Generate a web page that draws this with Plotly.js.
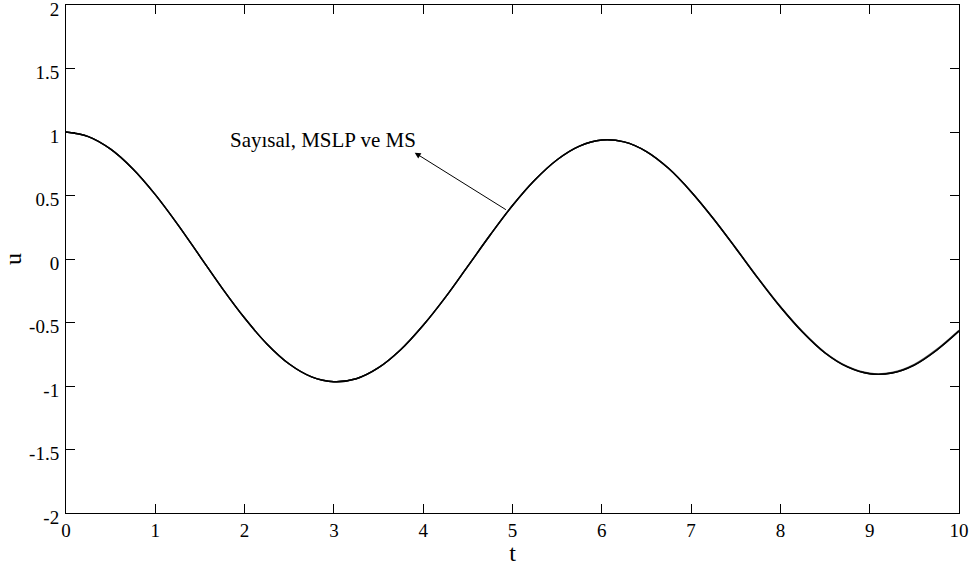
<!DOCTYPE html>
<html>
<head>
<meta charset="utf-8">
<script src="https://cdn.plot.ly/plotly-3.0.1.min.js"></script>
<style>html,body{margin:0;padding:0;background:#fff;}#chart{width:974px;height:566px;}</style>
</head>
<body>
<div id="chart"></div>
<script>
// time samples
const tValues = [0,0.25,0.5,0.75,1,1.25,1.5,1.75,2,2.25,2.5,2.75,3,3.25,3.5,3.75,4,4.25,4.5,4.75,5,5.25,5.5,5.75,6,6.25,6.5,6.75,7,7.25,7.5,7.75,8,8.25,8.5,8.75,9,9.25,9.5,9.75,10];
// numerical solution (Sayısal)
const uSayisal = [1.000,0.964,0.865,0.709,0.507,0.273,0.021,-0.231,-0.465,-0.669,-0.827,-0.928,-0.966,-0.943,-0.856,-0.713,-0.522,-0.300,-0.056,0.189,0.421,0.622,0.782,0.889,0.937,0.922,0.846,0.712,0.530,0.317,0.085,-0.153,-0.378,-0.577,-0.740,-0.850,-0.904,-0.898,-0.835,-0.718,-0.568];
// MSLP solution
const uMSLP = [1.000,0.964,0.865,0.709,0.507,0.273,0.021,-0.231,-0.465,-0.669,-0.827,-0.928,-0.966,-0.943,-0.856,-0.713,-0.522,-0.300,-0.056,0.189,0.421,0.622,0.782,0.889,0.937,0.922,0.846,0.712,0.530,0.317,0.085,-0.153,-0.378,-0.577,-0.740,-0.850,-0.904,-0.898,-0.835,-0.718,-0.568];
// MS solution
const uMS = [1.000,0.964,0.865,0.709,0.507,0.273,0.021,-0.231,-0.465,-0.669,-0.827,-0.928,-0.966,-0.943,-0.856,-0.713,-0.522,-0.300,-0.056,0.189,0.421,0.622,0.782,0.889,0.937,0.922,0.846,0.712,0.530,0.318,0.087,-0.150,-0.374,-0.573,-0.736,-0.846,-0.900,-0.894,-0.830,-0.712,-0.561];

const xTicks = [0,1,2,3,4,5,6,7,8,9,10];
const xTickText = ["0","1","2","3","4","5","6","7","8","9","10"];
const yTicks = [-2,-1.5,-1,-0.5,0,0.5,1,1.5,2];
const yTickText = ["-2","-1.5","-1","-0.5","0","0.5","1","1.5","2"];

const labelText = "Sayısal, MSLP ve MS";

const font = "'Liberation Serif', 'Times New Roman', serif";
const mk = (y, name, color) => ({
  x: tValues, y: y, name: name, type: 'scatter', mode: 'lines',
  line: {color: color, width: 1.4, shape: 'spline', smoothing: 1.0},
  hoverinfo: 'skip'
});
const data = [mk(uMS, 'MS', '#555555'), mk(uMSLP, 'MSLP', '#111111'), mk(uSayisal, 'Sayısal', '#000000')];

const axisCommon = {
  showgrid: false, zeroline: false, showline: true, linecolor: '#000', linewidth: 1,
  mirror: 'ticks', ticks: 'inside', ticklen: 9, tickcolor: '#000', tickwidth: 1,
  tickfont: {family: font, size: 19, color: '#000'}, tickmode: 'array',
  ticklabeloverflow: 'allow'
};

const layout = {
  width: 974, height: 566,
  margin: {l: 66, r: 15, t: 5, b: 53},
  paper_bgcolor: '#fff', plot_bgcolor: '#fff',
  showlegend: false,
  xaxis: Object.assign({}, axisCommon, {
    range: [0, 10], tickvals: xTicks, ticktext: xTickText,
    title: {text: 't', font: {family: font, size: 24, color: '#000'}, standoff: 0}
  }),
  yaxis: Object.assign({}, axisCommon, {
    range: [-2, 2], tickvals: yTicks, ticktext: yTickText, ticklabelstandoff: 2,
    ticklabelshift: 4,
    title: {text: 'u', font: {family: font, size: 24, color: '#000'}, standoff: 7}
  }),
  annotations: [
    {x: 3.905, y: 0.837, xref: 'x', yref: 'y', ax: 4.943, ay: 0.381, axref: 'x', ayref: 'y',
     text: '', showarrow: true, arrowhead: 2, arrowsize: 1.2, arrowwidth: 1, arrowcolor: '#000'},
    {x: 2.88, y: 0.935, xref: 'x', yref: 'y', text: labelText, showarrow: false,
     font: {family: font, size: 21, color: '#000'}}
  ]
};

Plotly.newPlot('chart', data, layout, {displayModeBar: false, staticPlot: true});
</script>
</body>
</html>
